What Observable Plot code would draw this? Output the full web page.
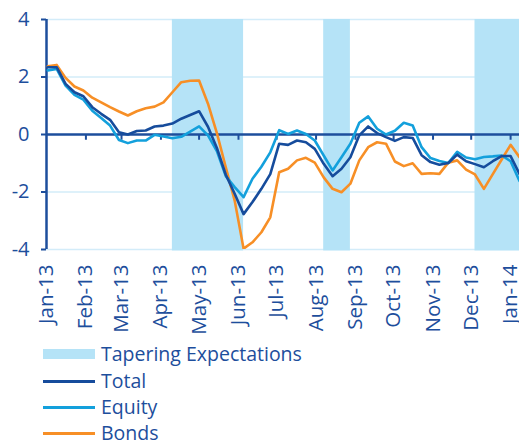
<!DOCTYPE html>
<html>
<head>
<meta charset="utf-8">
<script src="https://cdn.jsdelivr.net/npm/d3@7"></script>
<script src="https://cdn.jsdelivr.net/npm/@observablehq/plot@0.6"></script>
<style>
  html, body { margin: 0; padding: 0; background: #fff; overflow: hidden; }
  #wrap { position: relative; width: 519px; height: 443px; font-family: "Open Sans", sans-serif; color: #1d4e9c; }
  #legend { position: absolute; left: 0; top: 340px; width: 519px; height: 103px; }
  .row { position: absolute; left: 43px; height: 26px; display: flex; align-items: center; font-size: 19.5px; line-height: 26px; }
  .sw { width: 52px; margin-right: 6px; }
</style>
</head>
<body>
<div id="wrap">
  <div id="chart"></div>
  <div id="legend"></div>
</div>
<script>
const dates = [
  "2013-01-02","2013-01-09","2013-01-16","2013-01-23","2013-01-30",
  "2013-02-06","2013-02-13","2013-02-20","2013-02-27",
  "2013-03-06","2013-03-13","2013-03-20","2013-03-27",
  "2013-04-03","2013-04-10","2013-04-17","2013-04-24",
  "2013-05-01","2013-05-08","2013-05-15","2013-05-22","2013-05-29",
  "2013-06-05","2013-06-12","2013-06-19","2013-06-26",
  "2013-07-03","2013-07-10","2013-07-17","2013-07-24","2013-07-31",
  "2013-08-07","2013-08-14","2013-08-21","2013-08-28",
  "2013-09-04","2013-09-11","2013-09-18","2013-09-25",
  "2013-10-02","2013-10-09","2013-10-16","2013-10-23","2013-10-30",
  "2013-11-06","2013-11-13","2013-11-20","2013-11-27",
  "2013-12-04","2013-12-11","2013-12-18","2013-12-25",
  "2014-01-01","2014-01-08"
];
const total = [2.34,2.34,1.76,1.47,1.33,0.95,0.72,0.51,0.08,0.00,0.12,0.14,0.28,0.31,0.38,0.55,0.68,0.81,0.27,-0.47,-1.40,-2.06,-2.77,-2.35,-1.89,-1.38,-0.32,-0.36,-0.21,-0.27,-0.50,-1.02,-1.45,-1.19,-0.79,-0.03,0.28,0.05,-0.09,-0.22,-0.09,-0.12,-0.72,-0.96,-1.05,-0.99,-0.70,-0.93,-1.03,-1.14,-0.93,-0.75,-0.75,-1.37];
const equity = [2.23,2.28,1.70,1.38,1.21,0.83,0.57,0.31,-0.19,-0.30,-0.21,-0.21,-0.01,-0.07,-0.13,-0.08,0.10,0.28,-0.03,-0.58,-1.45,-1.83,-2.18,-1.54,-1.12,-0.62,0.15,0.02,0.14,0.02,-0.21,-0.73,-1.25,-0.79,-0.32,0.41,0.63,0.20,0.00,0.13,0.41,0.31,-0.44,-0.82,-0.92,-0.99,-0.60,-0.80,-0.86,-0.78,-0.76,-0.73,-0.93,-1.62];
const bonds = [2.37,2.42,1.97,1.67,1.53,1.28,1.12,0.95,0.80,0.66,0.81,0.91,0.97,1.12,1.47,1.82,1.87,1.88,1.07,0.05,-1.14,-2.30,-3.97,-3.75,-3.40,-2.88,-1.31,-1.19,-0.90,-0.81,-0.98,-1.49,-1.89,-2.01,-1.71,-0.90,-0.44,-0.27,-0.32,-0.94,-1.10,-1.00,-1.37,-1.35,-1.37,-0.98,-0.90,-1.22,-1.39,-1.89,-1.38,-0.87,-0.36,-0.79];
const taperStart = ["2013-04-10","2013-08-07","2013-12-04"];
const taperEnd = ["2013-06-05","2013-08-28","2014-01-08"];
const monthTicks = ["2013-01-01","2013-02-01","2013-03-01","2013-04-01","2013-05-01","2013-06-01","2013-07-01","2013-08-01","2013-09-01","2013-10-01","2013-11-01","2013-12-01","2014-01-01"];
const yTicks = [-4,-2,0,2,4];
const gridValues = [-4,-2,2,4];
const seriesNames = ["Total","Equity","Bonds"];
const legendTitle = "Tapering Expectations";

const C = {text:"#1d4e9c", total:"#164c9c", equity:"#13a0dc", bonds:"#f78f26", band:"#b5e3f7", grid:"#d3ecf9"};

const parse = s => new Date(s + "T00:00:00Z");
const rows = dates.map((d, i) => ({date: parse(d), total: total[i], equity: equity[i], bonds: bonds[i]}));
const bands = taperStart.map((s, i) => ({start: parse(s), end: parse(taperEnd[i])}));
const months = monthTicks.map(parse);
const x0 = parse("2013-01-01"), x1 = parse("2014-01-08");

const chart = Plot.plot({
  width: 519,
  height: 340,
  marginLeft: 46,
  marginRight: 0,
  marginTop: 19,
  marginBottom: 91,
  style: {fontFamily: "Open Sans, sans-serif", color: C.text, background: "transparent", overflow: "visible"},
  x: {type: "utc", domain: [x0, x1]},
  y: {domain: [-4, 4]},
  marks: [
    Plot.ruleY(gridValues, {stroke: C.grid, strokeWidth: 1.5}),
    Plot.rect(bands, {x1: "start", x2: "end", y1: -4.05, y2: 4, fill: C.band}),
    Plot.ruleY([0], {stroke: C.text, strokeWidth: 2.5}),
    Plot.ruleX(months.slice(1), {x: d => d, y1: 0, y2: -0.2, stroke: C.text, strokeWidth: 2}),
    Plot.ruleX([x0], {y1: -4, y2: 4, stroke: C.text, strokeWidth: 2.5}),
    Plot.axisY({ticks: yTicks, tickSize: 5, tickPadding: 12, fontSize: 20, label: null, strokeWidth: 2, tickFormat: d => String(d)}),
    Plot.axisX({ticks: months, tickFormat: d3.utcFormat("%b-%y"), tickRotate: -90, tickSize: 0, tickPadding: 15, fontSize: 20.5, label: null}),
    Plot.line(rows, {x: "date", y: "bonds", stroke: C.bonds, strokeWidth: 2.6, clip: true}),
    Plot.line(rows, {x: "date", y: "equity", stroke: C.equity, strokeWidth: 2.6, clip: true}),
    Plot.line(rows, {x: "date", y: "total", stroke: C.total, strokeWidth: 2.6, clip: true})
  ]
});
document.getElementById("chart").appendChild(chart);

const legend = document.getElementById("legend");
const items = [
  {label: legendTitle, kind: "rect", color: C.band},
  {label: seriesNames[0], kind: "line", color: C.total},
  {label: seriesNames[1], kind: "line", color: C.equity},
  {label: seriesNames[2], kind: "line", color: C.bonds}
];
const centers = [14, 41, 67, 93];
items.forEach((it, i) => {
  const row = document.createElement("div");
  row.className = "row";
  row.style.top = (centers[i] - 13) + "px";
  const sw = document.createElement("div");
  sw.className = "sw";
  sw.style.height = it.kind === "rect" ? "10px" : "3px";
  sw.style.background = it.color;
  const t = document.createElement("span");
  t.textContent = it.label;
  row.appendChild(sw); row.appendChild(t);
  legend.appendChild(row);
});
</script>
</body>
</html>
